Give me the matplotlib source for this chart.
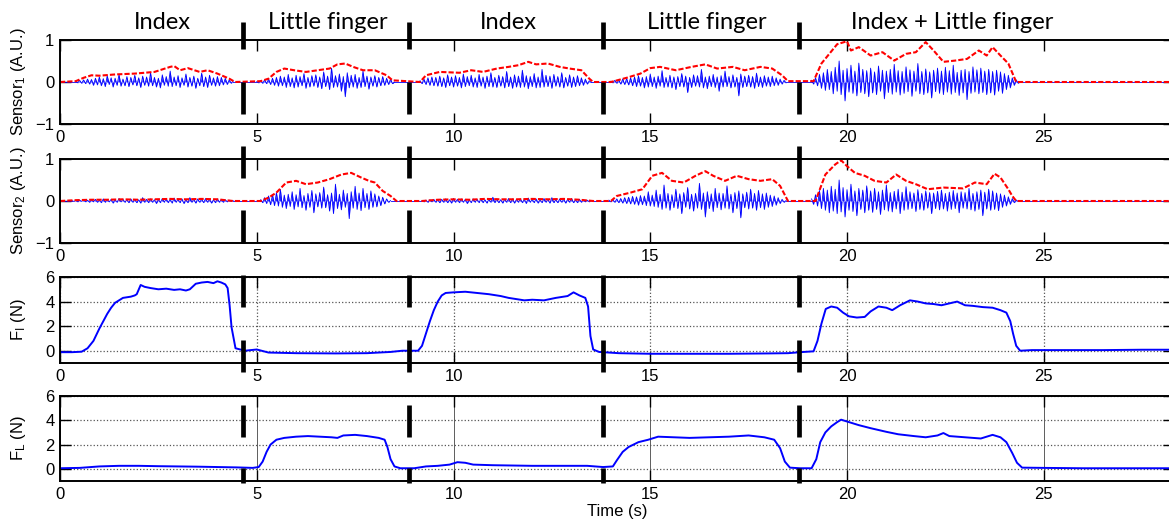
import matplotlib
matplotlib.use("Agg")
import matplotlib.pyplot as plt
import numpy as np
from matplotlib.lines import Line2D
from matplotlib.transforms import blended_transform_factory

plt.rcParams['font.family'] = ['Liberation Sans', 'DejaVu Sans']

# ---------------- data ----------------
# EMG bursts, sensor 1 (hundredths of A.U., samples every 0.05 s)
s1_b1 = [2, -2, 4, -3, 5, -4, 7, -5, 6, -8, 9,
         -7, 12, -9, 8, -11, 15, -6, 10, -12, 9, -8, 18, -10, 7, -9, 13, -11, 11, -7, 16,
         -9, 10, -13, 14, -8, 12, -10, 22, -9, 11, -12, 9, -14, 17, -8, 13, -10, 26, -11, 12,
         -9, 15, -13, 10, -8, 19, -12, 11, -10, 14, -15, 9, -9, 21, -11, 12, -13, 16, -8, 10,
         -10, 13, -9, 11, -7, 9, -6, 5, -3, 2]
s1_b2 = [1, -2, 3, -3, 5, -4, 7, -6, 9, -8,
         11, -10, 14, -9, 12, -13, 18, -11, 10, -14, 16, -12, 13, -9, 20, -15, 11, -12, 15, -10,
         17, -13, 12, -16, 24, -11, 14, -18, 33, -13, 15, -12, 19, -22, 13, -35, 22, -14, 16, -12,
         18, -15, 11, -13, 26, -11, 14, -17, 12, -10, 15, -12, 11, -9, 13, -8, 9, -6, 7, -4,
         0]
s1_b3 = [3, -4, 7, -6, 10, -8, 12, -9, 11, -10,
         14, -11, 10, -13, 17, -9, 12, -12, 15, -10, 11, -14, 19, -11, 13, -9, 16, -12, 10, -13,
         18, -10, 12, -15, 14, -11, 22, -12, 11, -13, 16, -10, 13, -14, 25, -11, 12, -15, 17, -12,
         14, -13, 28, -12, 15, -16, 13, -11, 20, -14, 12, -13, 30, -12, 16, -11, 14, -15, 18, -10,
         13, -12, 22, -14, 11, -10, 17, -13, 12, -11, 15, -9, 10, -8, 7, -5, 3, -1]
s1_b4 = [2, -2, 4, -3, 5, -5, 7, -6, 8, -7,
         10, -9, 12, -11, 15, -10, 11, -14, 13, -12, 19, -11, 12, -15, 14, -10, 27, -13, 11, -12,
         16, -14, 12, -18, 13, -11, 20, -12, 14, -25, 11, -13, 17, -10, 15, -12, 30, -14, 12, -16,
         14, -11, 18, -13, 12, -22, 15, -12, 26, -11, 13, -14, 17, -12, 11, -33, 19, -13, 14, -11,
         16, -12, 13, -15, 21, -11, 12, -13, 15, -10, 12, -11, 14, -9, 10, -8, 7, -5, 4, -2]
s1_b5 = [4, -5, 10, -9, 18, -15, 22, -20, 30, -18,
         25, -28, 35, -22, 50, -30, 28, -45, 32, -24, 40, -27, 26, -33, 45, -25, 30, -28, 27, -35,
         33, -26, 24, -30, 38, -22, 28, -40, 26, -25, 30, -29, 42, -24, 27, -31, 25, -27, 36, -23,
         29, -34, 26, -22, 44, -28, 25, -30, 31, -26, 24, -38, 28, -23, 33, -27, 26, -30, 35, -24,
         27, -29, 40, -25, 23, -32, 28, -26, 30, -42, 25, -27, 36, -24, 29, -28, 33, -25, 26, -30,
         30, -26, 25, -31, 28, -22, 24, -27, 20, -18, 16, -14, 10, -8, 5, -3, 1]
s1_blue = [(0.00, 0.40, [0, 0]), (0.40, 4.40, s1_b1), (4.40, 5.00, [0, 0]),
           (5.00, 8.50, s1_b2), (8.50, 9.15, [0, 0]), (9.15, 13.50, s1_b3),
           (13.50, 14.00, [0, 0]), (14.00, 18.45, s1_b4), (18.45, 19.10, [0, 0]),
           (19.10, 24.40, s1_b5), (24.40, 28.30, [0, 0])]

s1_env_t = [0, 0.40, 0.60, 0.80, 1.00, 1.40, 1.90, 2.40, 2.60, 2.80, 2.90, 3.05, 3.25, 3.55, 3.75,
            4.00, 4.30, 4.45, 5.10, 5.30, 5.50, 5.70, 5.95, 6.25, 6.55, 6.85, 7.05, 7.25, 7.45,
            7.70, 8.00, 8.30, 8.45, 9.15, 9.30, 9.65, 10.15, 10.45, 10.75, 11.10, 11.40, 11.65,
            11.90, 12.10, 12.40, 12.70, 12.95, 13.25, 13.45, 13.55, 14.00, 14.40, 14.75, 15.00,
            15.25, 15.65, 16.05, 16.40, 16.70, 17.10, 17.40, 17.80, 18.10, 18.35, 18.50, 19.15,
            19.35, 19.55, 19.75, 20.00, 20.10, 20.30, 20.60, 20.90, 21.20, 21.50, 21.75, 22.00,
            22.20, 22.45, 22.75, 23.05, 23.35, 23.55, 23.70, 23.90, 24.10, 24.30, 28.30]
s1_env = [0, 0.02, 0.10, 0.16, 0.15, 0.18, 0.20, 0.24, 0.30, 0.36, 0.38, 0.28, 0.33, 0.24, 0.28,
          0.20, 0.08, 0, 0.02, 0.08, 0.24, 0.32, 0.28, 0.24, 0.28, 0.32, 0.42, 0.44, 0.36,
          0.28, 0.28, 0.16, 0.04, 0, 0.16, 0.24, 0.22, 0.28, 0.24, 0.32, 0.36, 0.40,
          0.48, 0.42, 0.44, 0.36, 0.32, 0.28, 0.08, 0, 0, 0.10, 0.20, 0.33,
          0.36, 0.28, 0.36, 0.42, 0.32, 0.36, 0.28, 0.36, 0.32, 0.16, 0.02, 0.02,
          0.44, 0.67, 0.90, 0.97, 0.75, 0.83, 0.63, 0.71, 0.51, 0.67, 0.71, 0.95,
          0.75, 0.48, 0.51, 0.55, 0.75, 0.63, 0.83, 0.63, 0.44, 0, 0]

# EMG bursts, sensor 2
s2_b1 = [1, -1, 1, -2, 2, -1, 3, -2, 2, -3,
         3, -2, 4, -3, 2, -4, 5, -3, 3, -2, 4, -5, 3, -3, 6, -2, 4, -3, 3, -4,
         5, -3, 4, -4, 3, -5, 8, -3, 4, -4, 5, -3, 3, -6, 4, -4, 6, -3, 5, -4,
         4, -5, 7, -3, 4, -4, 5, -6, 3, -4, 8, -3, 4, -5, 5, -3, 4, -4, 6, -3,
         4, -5, 3, -4, 5, -3, 4, -3, 3, -2, 2, -1, 1]
s2_b2 = [3, -4, 8, -6, 12, -9, 15, -11, 20, -12,
         28, -15, 14, -18, 16, -13, 22, -20, 15, -14, 30, -16, 13, -22, 18, -15, 25, -28, 17, -14,
         20, -17, 33, -16, 15, -24, 19, -30, 40, -18, 16, -21, 26, -15, 18, -42, 22, -17, 35, -20,
         19, -23, 30, -16, 18, -20, 24, -15, 17, -14, 12, -11, 9, -7, 5, -3, 1]
s2_b3 = [1, -2, 2, -3, 3, -2, 4, -3, 3, -4,
         4, -3, 5, -4, 3, -5, 6, -3, 4, -4, 5, -3, 4, -6, 3, -4, 5, -3, 4, -4,
         6, -4, 3, -5, 4, -3, 9, -4, 5, -4, 3, -5, 4, -3, 6, -4, 5, -5, 4, -3,
         5, -4, 4, -6, 7, -3, 4, -4, 5, -5, 3, -4, 6, -3, 4, -5, 8, -4, 3, -4,
         5, -3, 4, -5, 4, -3, 6, -4, 3, -4, 4, -3, 3, -2, 2, -2, 1, -1]
s2_b4 = [2, -2, 3, -3, 5, -4, 6, -5, 8, -6,
         9, -7, 11, -8, 10, -10, 13, -9, 12, -11, 22, -12, 14, -13, 26, -15, 16, -20, 38, -17,
         18, -22, 15, -16, 28, -18, 17, -30, 20, -15, 32, -19, 16, -24, 18, -17, 42, -20, 19, -38,
         22, -18, 17, -25, 30, -16, 19, -21, 18, -17, 36, -19, 16, -28, 20, -18, 24, -40, 17, -16,
         21, -19, 28, -17, 18, -22, 25, -16, 17, -20, 19, -15, 14, -13, 12, -10, 8, -6, 4, -3, 1]
s2_b5 = [5, -8, 15, -12, 25, -18, 30, -22, 26, -28,
         35, -24, 28, -30, 50, -26, 32, -38, 27, -22, 40, -25, 24, -35, 30, -20, 26, -28, 36, -22,
         24, -27, 30, -20, 22, -32, 26, -21, 38, -24, 20, -26, 23, -19, 28, -30, 21, -22, 34, -20,
         22, -18, 19, -25, 27, -20, 18, -22, 24, -17, 20, -30, 19, -18, 23, -21, 26, -19, 18, -24,
         21, -20, 25, -18, 19, -28, 22, -17, 20, -19, 30, -21, 18, -24, 22, -20, 26, -35, 21, -19,
         28, -22, 24, -20, 19, -23, 17, -15, 14, -12, 10, -8, 6, -4, 2, -1]
s2_blue = [(0.00, 0.30, [0, 0]), (0.30, 4.40, s2_b1), (4.40, 5.10, [0, 0]),
           (5.10, 8.40, s2_b2), (8.40, 9.20, [0, 0]), (9.20, 13.55, s2_b3),
           (13.55, 13.95, [0, 0]), (13.95, 18.45, s2_b4), (18.45, 19.10, [0, 0]),
           (19.10, 24.35, s2_b5), (24.35, 28.30, [0, 0])]

s2_env_t = [0, 0.40, 0.80, 1.20, 1.60, 2.00, 2.40, 2.80, 3.20, 3.60, 4.00, 4.40, 5.10, 5.30,
            5.50, 5.75, 6.00, 6.25, 6.55, 6.85, 7.15, 7.40, 7.65, 7.85, 8.00, 8.20, 8.40, 8.55,
            9.20, 9.60, 10.00, 10.40, 10.80, 11.20, 11.60, 12.00, 12.40, 12.80, 13.20, 13.55,
            14.00, 14.15, 14.50, 14.80, 15.05, 15.30, 15.55, 15.85, 16.15, 16.40, 16.60, 16.90,
            17.20, 17.50, 17.80, 18.10, 18.30, 18.50, 19.20, 19.45, 19.70, 19.85, 20.00, 20.20,
            20.45, 20.70, 21.00, 21.25, 21.50, 21.75, 22.05, 22.45, 22.95, 23.25, 23.55, 23.75,
            23.90, 24.10, 24.20, 24.30, 28.30]
s2_env = [0, 0.02, 0.03, 0.03, 0.04, 0.03, 0.04, 0.05, 0.04, 0.05, 0.04, 0, 0, 0.08,
          0.20, 0.44, 0.48, 0.40, 0.44, 0.52, 0.63, 0.67, 0.56, 0.48, 0.44, 0.24, 0.12, 0,
          0, 0.03, 0.04, 0.03, 0.05, 0.04, 0.04, 0.05, 0.04, 0.05, 0.03, 0,
          0, 0.12, 0.20, 0.28, 0.60, 0.67, 0.48, 0.44, 0.60, 0.71, 0.60, 0.48,
          0.60, 0.52, 0.48, 0.52, 0.36, 0.0, 0.0, 0.63, 0.87, 0.97, 0.83, 0.67,
          0.60, 0.48, 0.44, 0.63, 0.48, 0.40, 0.28, 0.32, 0.30, 0.44, 0.40, 0.65,
          0.56, 0.28, 0.12, 0, 0]

# index finger force F_I (N)
fi_t = [0, 0.30, 0.55, 0.70, 0.85, 1.00, 1.10, 1.20, 1.30, 1.40,
        1.60, 1.80, 1.90, 1.95, 2.05, 2.15, 2.30, 2.50, 2.70, 2.90,
        3.05, 3.20, 3.30, 3.45, 3.60, 3.75, 3.90, 4.00, 4.10, 4.20,
        4.26, 4.31, 4.36, 4.46, 4.70, 5.00, 5.30, 6.00, 7.00, 7.80,
        8.40, 8.70, 9.10, 9.20, 9.30, 9.40, 9.50, 9.60, 9.70, 9.80,
        10.00, 10.30, 10.60, 10.90, 11.20, 11.40, 11.60, 11.80, 12.00, 12.30,
        12.60, 12.90, 13.05, 13.20, 13.35, 13.42, 13.48, 13.55, 13.70, 14.20,
        15.00, 16.00, 17.00, 18.00, 18.50, 18.90, 19.15, 19.25, 19.35, 19.46,
        19.60, 19.75, 19.90, 20.05, 20.25, 20.45, 20.60, 20.80, 21.00, 21.15,
        21.35, 21.60, 21.80, 22.00, 22.20, 22.40, 22.60, 22.80, 23.00, 23.20,
        23.45, 23.70, 23.90, 24.05, 24.15, 24.22, 24.30, 24.40, 24.70, 25.50,
        26.50, 27.50, 28.30]
fi = [-0.12, -0.12, -0.08, 0.2, 0.8, 1.8, 2.4, 3.0, 3.5, 3.9,
      4.3, 4.4, 4.5, 4.6, 5.35, 5.2, 5.1, 5.0, 5.05, 4.95,
      5.0, 4.9, 5.0, 5.45, 5.55, 5.6, 5.5, 5.65, 5.55, 5.4,
      5.1, 3.7, 1.9, 0.2, 0.0, 0.1, -0.15, -0.2, -0.22, -0.2,
      -0.1, 0.0, 0.0, 0.4, 1.4, 2.4, 3.3, 4.0, 4.5, 4.7,
      4.75, 4.8, 4.7, 4.6, 4.45, 4.3, 4.2, 4.1, 4.15, 4.1,
      4.3, 4.45, 4.75, 4.5, 4.3, 3.6, 1.2, 0.1, -0.1, -0.2,
      -0.25, -0.25, -0.25, -0.22, -0.2, -0.1, -0.05, 0.8, 2.2, 3.4,
      3.6, 3.5, 3.1, 2.8, 2.7, 2.75, 3.2, 3.6, 3.5, 3.3,
      3.7, 4.1, 4.0, 3.85, 3.8, 3.7, 3.85, 4.0, 3.7, 3.65,
      3.55, 3.5, 3.3, 3.1, 2.4, 1.4, 0.4, 0.0, 0.05, 0.05,
      0.05, 0.08, 0.08]

# little finger force F_L (N)
fl_t = [0, 0.5, 1.0, 1.5, 2.0, 2.5, 3.0, 3.5, 4.0, 4.5,
        4.9, 5.05, 5.15, 5.25, 5.35, 5.5, 5.7, 6.0, 6.3, 6.6,
        6.9, 7.05, 7.2, 7.5, 7.8, 8.1, 8.25, 8.32, 8.4, 8.5,
        8.65, 9.0, 9.3, 9.6, 9.9, 10.1, 10.3, 10.5, 11.0, 12.0,
        13.0, 13.4, 13.8, 14.05, 14.15, 14.3, 14.45, 14.7, 14.95, 15.2,
        15.6, 16.0, 16.5, 17.0, 17.5, 17.9, 18.15, 18.3, 18.42, 18.55,
        18.8, 19.1, 19.22, 19.32, 19.45, 19.6, 19.75, 19.85, 20.0, 20.3,
        20.6, 21.0, 21.3, 21.7, 22.0, 22.3, 22.45, 22.6, 23.0, 23.4,
        23.7, 23.9, 24.05, 24.2, 24.32, 24.45, 25.0, 26.0, 27.0, 28.3]
fl = [0.05, 0.08, 0.2, 0.25, 0.25, 0.22, 0.2, 0.18, 0.15, 0.12,
      0.08, 0.15, 0.6, 1.4, 2.0, 2.4, 2.55, 2.65, 2.7, 2.65,
      2.6, 2.55, 2.75, 2.8, 2.7, 2.55, 2.4, 1.8, 0.8, 0.2,
      0.05, 0.05, 0.2, 0.25, 0.35, 0.55, 0.5, 0.35, 0.3, 0.25,
      0.25, 0.25, 0.15, 0.2, 0.7, 1.4, 1.8, 2.2, 2.4, 2.65,
      2.6, 2.55, 2.6, 2.65, 2.75, 2.6, 2.4, 1.7, 0.6, 0.1,
      0.05, 0.05, 0.8, 2.2, 3.0, 3.5, 3.85, 4.05, 3.9, 3.6,
      3.35, 3.05, 2.85, 2.7, 2.6, 2.75, 2.95, 2.7, 2.6, 2.5,
      2.8, 2.6, 2.2, 1.3, 0.5, 0.1, 0.08, 0.05, 0.05, 0.05]

titles = ["Index", "Little finger", "Index", "Little finger", "Index + Little finger"]
title_x = [2.6, 6.8, 11.4, 16.45, 22.67]
switch_x = [4.66, 8.86, 13.8, 18.78]
xticks = [0, 5, 10, 15, 20, 25]

# ---------------- layout ----------------
W, H = 1169, 524
fig = plt.figure(figsize=(W / 100, H / 100), dpi=100)
x_max = 28.3
px_per_unit = 39.35


def make_axes(top, bottom):
    return fig.add_axes([60 / W, 1 - bottom / H, x_max * px_per_unit / W, (bottom - top) / H])


ax1 = make_axes(40, 124)
ax2 = make_axes(159, 243)
ax3 = make_axes(277, 363)
ax4 = make_axes(396, 481)
axes = [ax1, ax2, ax3, ax4]

for ax, blue, env_t, env in [(ax1, s1_blue, s1_env_t, s1_env), (ax2, s2_blue, s2_env_t, s2_env)]:
    for t0, t1, vals in blue:
        t = np.linspace(t0, t1, len(vals))
        v = np.array(vals) / 100.0
        ax.fill_between(t, v, 0, color='#0000ff', lw=0, alpha=0.85)
        ax.plot(t, v, color='#0000ff', lw=0.6)
    ax.plot(env_t, env, color='red', lw=1.5, linestyle=(0, (2.5, 1.0)))
    ax.set_ylim(-1, 1)
    ax.set_yticks([-1, 0, 1])

ax3.plot(fi_t, fi, color='#0000ff', lw=1.4)
ax4.plot(fl_t, fl, color='#0000ff', lw=1.4)
for ax in (ax3, ax4):
    ax.set_ylim(-1, 6)
    ax.set_yticks([0, 2, 4, 6])
    ax.grid(True, axis='y', linestyle=':', color='#555555', lw=0.9)
ax3.grid(True, axis='x', linestyle=':', color='#555555', lw=0.9)
ax4.grid(True, axis='x', linestyle='-', color='#444444', lw=0.6)

ylabels = [r"$\mathregular{Sensor_1}$ (A.U.)", r"$\mathregular{Sensor_2}$ (A.U.)",
           r"$\mathregular{F_I}$ (N)", r"$\mathregular{F_L}$ (N)"]
for ax, lab in zip(axes, ylabels):
    ax.set_xlim(0, x_max)
    ax.set_xticks(xticks)
    ax.tick_params(direction='in', length=8, width=1, top=True, right=True,
                   labelsize=12, pad=4, colors='black')
    for sp in ax.spines.values():
        sp.set_linewidth(1.4)
    ax.set_ylabel(lab, fontsize=12)
    ax.yaxis.set_label_coords(-0.029, 0.5)

ax4.set_xlabel("Time (s)", fontsize=12, labelpad=2)

# condition labels along the top
tr = blended_transform_factory(ax1.transData, fig.transFigure)
for lab, x in zip(titles, title_x):
    fig.text(x, 1 - 29 / H, lab, transform=tr, ha='center', va='baseline',
             fontsize=17, family=['Lato', 'DejaVu Sans'])

# thick black dashed separators between conditions
seg_px = [(22, 49), (82, 114), (146, 178), (210, 243), (275, 307), (340, 372), (405, 437), (468, 483)]
for x in switch_x:
    for y0, y1 in seg_px:
        fig.add_artist(Line2D([x, x], [1 - y0 / H, 1 - y1 / H], transform=tr,
                              color='black', lw=3.4, solid_capstyle='butt', zorder=10))

fig.savefig("out.png", dpi=100)
